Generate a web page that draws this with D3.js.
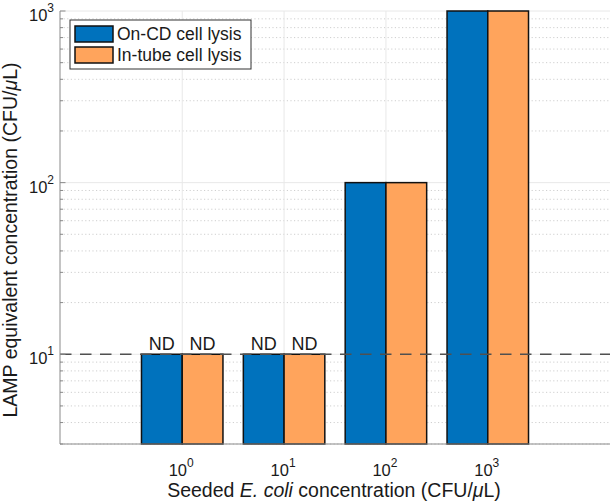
<!DOCTYPE html>
<html>
<head>
<meta charset="utf-8">
<script src="https://cdn.jsdelivr.net/npm/d3@7"></script>
<style>
  body { margin: 0; background: #fff; }
  text { font-family: "Liberation Sans", Arial, sans-serif; fill: #1a1a1a; }
</style>
</head>
<body>
<script>
// seeded concentrations, as powers of ten
const exponents = [0, 1, 2, 3]
const onCD = [10, 10, 100, 1000]
const inTube = [10, 10, 100, 1000]
const onCDNotes = ['ND', 'ND', '', '']
const inTubeNotes = ['ND', 'ND', '', '']
const seriesNames = ['On-CD cell lysis', 'In-tube cell lysis']
const yMajor = [10, 100, 1000]
const cutoff = 10

const colors = ['#0072bd', '#ffa45c']
const W = 611, H = 503
const m = {left: 60, right: 1, top: 11, bottom: 59}

const svg = d3.select('body').append('svg')
    .attr('width', W)
    .attr('height', H)

const x = d3.scaleLinear().domain([-0.2, 5.2]).range([m.left, W - m.right])
const y = d3.scaleLog().domain([3, 1000]).range([H - m.bottom, m.top])
const barW = 0.4

// minor grid (dotted)
let minor = []
;[1, 10, 100].forEach(d => { for (let k = 2; k <= 9; k++) if (d * k >= 3) minor.push(d * k) })
svg.append('g').selectAll('line')
    .data(minor).enter().append('line')
    .attr('x1', x.range()[0]).attr('x2', x.range()[1])
    .attr('y1', d => y(d)).attr('y2', d => y(d))
    .attr('stroke', '#cfcfcf').attr('stroke-dasharray', '1.2,2.4')

// major grid
svg.append('g').selectAll('line')
    .data(yMajor).enter().append('line')
    .attr('x1', x.range()[0]).attr('x2', x.range()[1])
    .attr('y1', d => y(d)).attr('y2', d => y(d))
    .attr('stroke', '#e8e8e8')
svg.append('g').selectAll('line')
    .data(exponents).enter().append('line')
    .attr('x1', (d, i) => x(i + 1)).attr('x2', (d, i) => x(i + 1))
    .attr('y1', y.range()[0]).attr('y2', y.range()[1])
    .attr('stroke', '#e8e8e8')

// bars
const series = [onCD, inTube]
const notes = [onCDNotes, inTubeNotes]
series.forEach((vals, s) => {
    svg.append('g').selectAll('rect')
        .data(vals).enter().append('rect')
        .attr('x', (d, i) => x(i + 1 - barW + s * barW))
        .attr('width', x(barW) - x(0))
        .attr('y', d => y(d))
        .attr('height', d => y.range()[0] - y(d))
        .attr('fill', colors[s])
        .attr('stroke', '#111').attr('stroke-width', 1.5)
    svg.append('g').selectAll('text')
        .data(notes[s]).enter().append('text')
        .attr('x', (d, i) => x(i + 1 - barW / 2 + s * barW))
        .attr('y', (d, i) => y(vals[i]) - 4.5)
        .attr('text-anchor', 'middle')
        .attr('font-size', 18)
        .text(d => d)
})

// detection cutoff
svg.append('line')
    .attr('x1', x.range()[0]).attr('x2', x.range()[1])
    .attr('y1', y(cutoff)).attr('y2', y(cutoff))
    .attr('stroke', '#505050').attr('stroke-width', 1.4)
    .attr('stroke-dasharray', '11.5,8.5')

// axes lines
svg.append('line')
    .attr('x1', m.left).attr('x2', m.left)
    .attr('y1', y.range()[0]).attr('y2', y.range()[1])
    .attr('stroke', '#8a8a8a')
svg.append('line')
    .attr('x1', x.range()[0]).attr('x2', x.range()[1])
    .attr('y1', y.range()[0]).attr('y2', y.range()[0])
    .attr('stroke', '#8a8a8a')

// y ticks
svg.append('g').selectAll('line')
    .data(minor).enter().append('line')
    .attr('x1', m.left).attr('x2', m.left + 3)
    .attr('y1', d => y(d)).attr('y2', d => y(d))
    .attr('stroke', '#8a8a8a')
svg.append('g').selectAll('line')
    .data(yMajor).enter().append('line')
    .attr('x1', m.left).attr('x2', m.left + 5.5)
    .attr('y1', d => y(d)).attr('y2', d => y(d))
    .attr('stroke', '#8a8a8a')

let yLab = svg.append('g').selectAll('text')
    .data(yMajor).enter().append('text')
    .attr('x', 54)
    .attr('y', d => y(d) + 10)
    .attr('text-anchor', 'end')
    .attr('font-size', 16.5)
yLab.append('tspan').text('10')
yLab.append('tspan').attr('dy', -9).attr('font-size', 12).text(d => Math.round(Math.log10(d)))

// x tick labels
let xLab = svg.append('g').selectAll('text')
    .data(exponents).enter().append('text')
    .attr('x', (d, i) => x(i + 1) - 1)
    .attr('y', y.range()[0] + 32)
    .attr('text-anchor', 'middle')
    .attr('font-size', 16.5)
xLab.append('tspan').text('10')
xLab.append('tspan').attr('dy', -9).attr('font-size', 12).text(d => d)

// axis titles
let xt = svg.append('text')
    .attr('x', x(2.5) - 1)
    .attr('y', 496.5)
    .attr('text-anchor', 'middle')
    .attr('font-size', 19.5)
xt.append('tspan').text('Seeded ')
xt.append('tspan').attr('font-style', 'italic').text('E. coli')
xt.append('tspan').text(' concentration (CFU/')
xt.append('tspan').attr('font-style', 'italic').text('\u03bc')
xt.append('tspan').text('L)')

let yt = svg.append('text')
    .attr('transform', 'translate(17,240) rotate(-90)')
    .attr('text-anchor', 'middle')
    .attr('font-size', 19.5)
yt.append('tspan').text('LAMP equivalent concentration (CFU/')
yt.append('tspan').attr('font-style', 'italic').text('\u03bc')
yt.append('tspan').text('L)')

// legend
const lg = svg.append('g').attr('transform', 'translate(70,20)')
lg.append('rect')
    .attr('width', 181).attr('height', 49)
    .attr('fill', '#fff').attr('stroke', '#333').attr('stroke-width', 1)
seriesNames.forEach((name, i) => {
    lg.append('rect')
        .attr('x', 5).attr('y', 6 + i * 21)
        .attr('width', 38).attr('height', 16)
        .attr('fill', colors[i])
        .attr('stroke', '#111').attr('stroke-width', 1.5)
    lg.append('text')
        .attr('x', 47).attr('y', 20 + i * 21)
        .attr('font-size', 17.5)
        .text(name)
})
</script>
</body>
</html>
